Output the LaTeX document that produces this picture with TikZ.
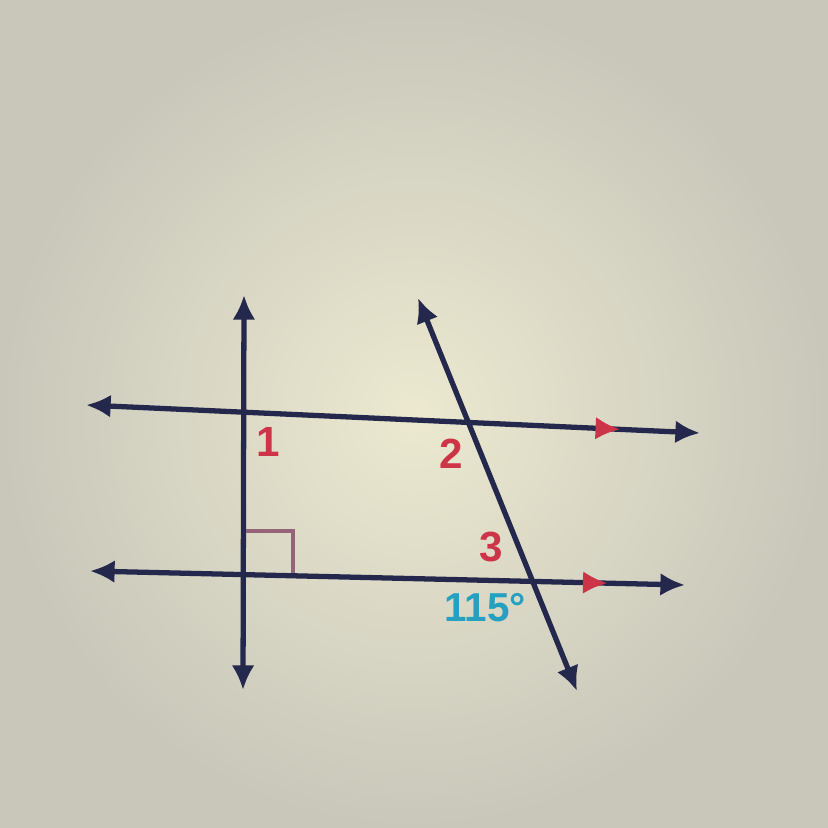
\documentclass[tikz,border=0pt]{standalone}
\usepackage{fontspec}
\setmainfont{Liberation Sans}
\usetikzlibrary{arrows.meta,decorations.markings}
\tikzset{>=latex}
\definecolor{linenavy}{RGB}{36,40,76}
\definecolor{markred}{RGB}{205,52,72}
\definecolor{anglecyan}{RGB}{38,160,192}
\definecolor{boxpink}{RGB}{150,100,122}
\definecolor{paperlight}{RGB}{236,233,208}
\definecolor{paperdark}{RGB}{200,199,186}

\begin{document}
\begin{tikzpicture}[x=0.1mm,y=-0.1mm]

	\tikzstyle{line_main} = [draw=linenavy, line width=1.5pt, {Latex[length=7pt,width=6.5pt]}-{Latex[length=7pt,width=6.5pt]}]
	\tikzstyle{line_parallel} = [line_main, postaction={decorate}, decoration={markings, mark=at position 0.87 with {\arrow[markred]{Latex[length=7pt,width=6.5pt]}}}]
	\tikzstyle{label_red} = [text=markred, font=\fontsize{12}{14}\selectfont\bfseries, inner sep=0pt]
	\tikzstyle{label_angle} = [text=anglecyan, font=\fontsize{11.5}{14}\selectfont\bfseries, inner sep=0pt]

	\useasboundingbox (0,0) rectangle (828,828);
	\shade[inner color=paperlight, outer color=paperdark] (0,0) rectangle (828,828);

%------------------------------------------------------------
	\coordinate (vt) at (244,295);
	\coordinate (vb) at (243,690);

	\coordinate (hl1) at (86,405);
	\coordinate (hr1) at (700,433);

	\coordinate (hl2) at (90,571);
	\coordinate (hr2) at (685,585);

	\coordinate (tt) at (418,298);
	\coordinate (tb) at (577,691);

%------------------------------------------------------------

	\draw[line_main] (vt) -- (vb);
	\draw[line_parallel] (hl1) -- (hr1);
	\draw[line_parallel] (hl2) -- (hr2);
	\draw[line_main] (tt) -- (tb);

%------------------------------------------------------------

	\coordinate (q1) at (246,531);
	\coordinate (q2) at (293,531);
	\coordinate (q3) at (293,573);
	\draw[boxpink, line width=0.9pt] (q1) -- (q2) -- (q3);

%------------------------------------------------------------

	\node[label_red] (l1) at (268,442) {1};
	\node[label_red] (l2) at (451,454) {2};
	\node[label_red] (l3) at (491,547) {3};
	\node[label_angle] (a115) at (485,608) {115°};

\end{tikzpicture}
\end{document}
